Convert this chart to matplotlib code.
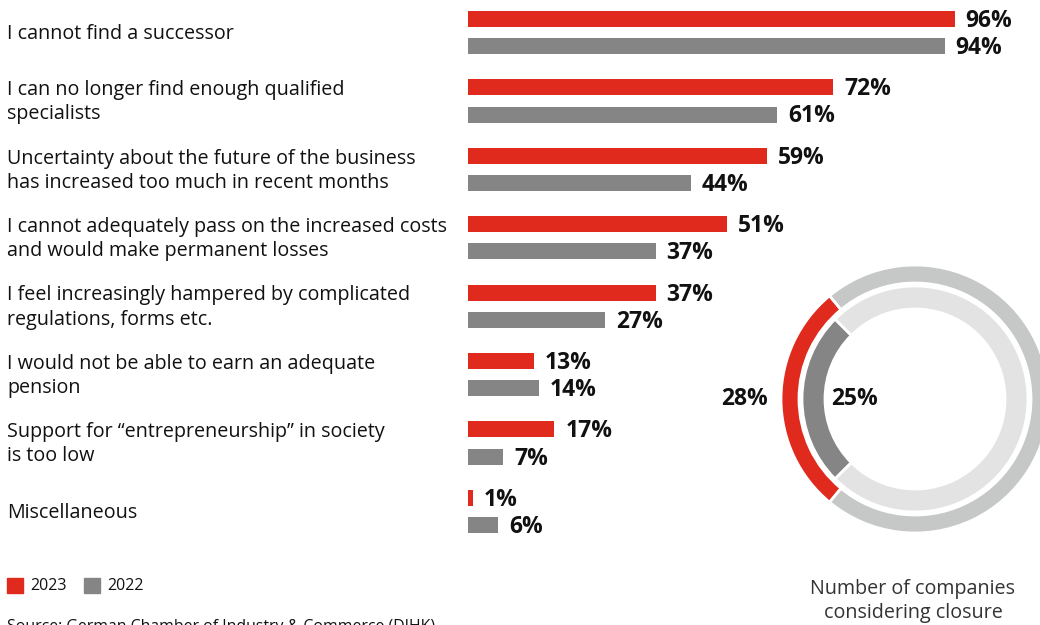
import matplotlib.pyplot as plt
from matplotlib.patches import Rectangle
from matplotlib.transforms import blended_transform_factory

# reasons given by companies considering closure (share in %)
reasons = [
    'I cannot find a successor',
    'I can no longer find enough qualified\nspecialists',
    'Uncertainty about the future of the business\nhas increased too much in recent months',
    'I cannot adequately pass on the increased costs\nand would make permanent losses',
    'I feel increasingly hampered by complicated\nregulations, forms etc.',
    'I would not be able to earn an adequate\npension',
    'Support for \u201centrepreneurship\u201d in society\nis too low',
    'Miscellaneous',
]
share_2023 = [96, 72, 59, 51, 37, 13, 17, 1]
share_2022 = [94, 61, 44, 37, 27, 14, 7, 6]

# companies considering closure overall
closure_2023 = 28
closure_2022 = 25

years = ['2023', '2022']

RED = '#e02a1d'
GREY = '#858585'
RING_OUT = '#c6c7c7'
RING_IN = '#e3e3e3'
TXT = '#111111'

plt.rcParams['font.family'] = ['Open Sans', 'DejaVu Sans']

W, H = 1040, 625
fig = plt.figure(figsize=(W / 100, H / 100), dpi=100)

# bar panel: one unit on y = one reason group
px_per_group = 68.4
top_px = 32.5 - 0.5 * px_per_group
ax = fig.add_axes([468 / W, 1 - (top_px + 8 * px_per_group) / H,
                   507 / W, 8 * px_per_group / H])
ax.set_xlim(0, 100)
ax.set_ylim(7.5, -0.5)
ax.axis('off')

off = 13.6 / px_per_group
bh = 16 / px_per_group
ypos = list(range(len(reasons)))
ax.barh([y - off for y in ypos], share_2023, height=bh, color=RED)
ax.barh([y + off for y in ypos], share_2022, height=bh, color=GREY)

for y, v in zip(ypos, share_2023):
    ax.annotate(f'{v}%', (v, y - off), xytext=(11, -2), textcoords='offset pixels',
                va='center', ha='left', fontsize=16.5, fontweight='bold', color=TXT)
for y, v in zip(ypos, share_2022):
    ax.annotate(f'{v}%', (v, y + off), xytext=(11, -2), textcoords='offset pixels',
                va='center', ha='left', fontsize=16.5, fontweight='bold', color=TXT)

lab_tr = blended_transform_factory(fig.transFigure, ax.transData)
for y, r in zip(ypos, reasons):
    ax.text(7 / W, y + 0.02, r, transform=lab_tr, ha='left', va='center',
            fontsize=14.2, color=TXT, linespacing=1.28)

# donut panel
size = 380
cx, cy = 915, 399
dax = fig.add_axes([(cx - size / 2) / W, 1 - (cy + size / 2) / H, size / W, size / H])
dax.set_aspect('equal')
dax.axis('off')

dax.pie([closure_2023, 100 - closure_2023], radius=1.34,
        startangle=180 - closure_2023 * 1.8, colors=[RED, RING_OUT],
        wedgeprops=dict(width=0.18, edgecolor='white', linewidth=2))
dax.pie([closure_2022, 100 - closure_2022], radius=1.13,
        startangle=180 - closure_2022 * 1.8, colors=[GREY, RING_IN],
        wedgeprops=dict(width=0.23, edgecolor='white', linewidth=2))
dax.set_xlim(-size / 200, size / 200)
dax.set_ylim(-size / 200, size / 200)

dax.text(-1.70, 0, f'{closure_2023}%', ha='center', va='center',
         fontsize=16.5, fontweight='bold', color=TXT)
dax.text(-0.60, 0, f'{closure_2022}%', ha='center', va='center',
         fontsize=16.5, fontweight='bold', color=TXT)

fig.text(913 / W, 1 - 601 / H, 'Number of companies\nconsidering closure',
         ha='center', va='center', fontsize=14.2, color='#333333', linespacing=1.3)

# legend
for x0, c, yr in zip([7, 84], [RED, GREY], years):
    fig.patches.append(Rectangle((x0 / W, 1 - 593 / H), 16 / W, 15 / H,
                                 transform=fig.transFigure, color=c))
    fig.text((x0 + 23) / W, 1 - 586 / H, yr, ha='left', va='center',
             fontsize=11.5, color=TXT)

fig.text(7 / W, 1 - 619 / H, 'Source: German Chamber of Industry & Commerce (DIHK)',
         ha='left', va='top', fontsize=11.4, color=TXT)

fig.savefig('out.png', dpi=100)
